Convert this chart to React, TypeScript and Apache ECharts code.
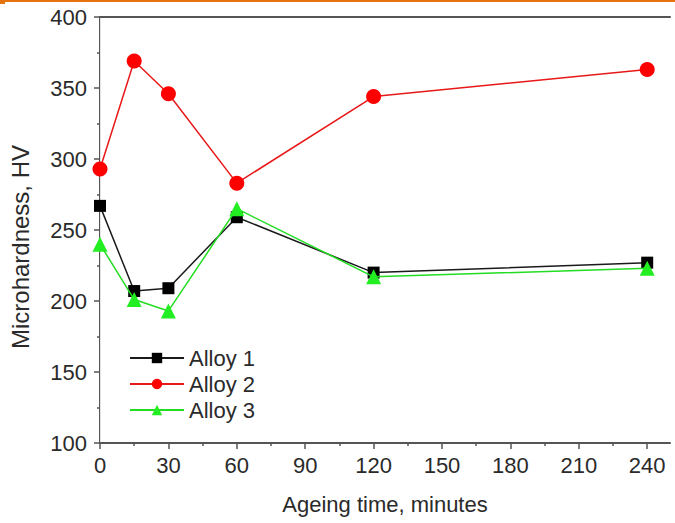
import React, { useEffect, useRef } from "react";
import * as echarts from "echarts";

const times = [0, 15, 30, 60, 120, 240];
const alloy1 = [267, 207, 209, 259, 220, 227];
const alloy2 = [293, 369, 346, 283, 344, 363];
const alloy3 = [240, 201, 193, 265, 217, 223];
const seriesNames = ["Alloy 1", "Alloy 2", "Alloy 3"];
const xMajorTicks = [0, 30, 60, 90, 120, 150, 180, 210, 240];
const xMinorTicks = [15, 45, 75, 105, 135, 165, 195, 225];

const FONT = "Liberation Sans, Arial, sans-serif";
const AXIS = "#555555";
const TEXT = "#2a2a2a";

export default function App() {
  const ref = useRef<HTMLDivElement>(null);
  useEffect(() => {
    document.body.style.margin = "0";
    const chart = echarts.init(ref.current!, null, { renderer: "svg" });
    const pair = (ys: number[]) => times.map((t, i) => [t, ys[i]]);
    const baseX = { type: "value", min: 0, max: 250, splitLine: { show: false } };
    chart.setOption({
      animation: false,
      backgroundColor: "#ffffff",
      textStyle: { fontFamily: FONT },
      graphic: [
        { type: "rect", shape: { x: 0, y: 0, width: 675, height: 2 }, style: { fill: "#e5730f" } },
        { type: "rect", shape: { x: 0, y: 0, width: 5, height: 4 }, style: { fill: "#e5730f" } },
      ],
      grid: { left: 100, top: 17, right: 5, bottom: 80, outerBoundsMode: "none", containLabel: false },
      legend: {
        orient: "vertical",
        left: 124,
        top: 342,
        itemWidth: 54,
        itemHeight: 13,
        itemGap: 4,
        textStyle: { fontSize: 22, color: TEXT, fontFamily: FONT },
        data: seriesNames,
      },
      xAxis: [
        {
          ...baseX,
          position: "bottom",
          name: "Ageing time, minutes",
          nameLocation: "middle",
          nameGap: 50,
          nameMoveOverlap: false,
          nameTextStyle: { fontSize: 22, color: TEXT, fontFamily: FONT },
          axisLine: { lineStyle: { color: AXIS, width: 2 } },
          axisTick: { show: true, length: 6, customValues: xMajorTicks, lineStyle: { color: AXIS, width: 1.5 } },
          axisLabel: { fontSize: 22, color: TEXT, margin: 11, customValues: xMajorTicks, fontFamily: FONT },
        },
        {
          ...baseX,
          position: "bottom",
          axisLine: { show: false },
          axisTick: { show: true, length: 3, customValues: xMinorTicks, lineStyle: { color: AXIS, width: 1.5 } },
          axisLabel: { show: false },
        },
        {
          ...baseX,
          position: "top",
          axisLine: { show: true, lineStyle: { color: AXIS, width: 2 } },
          axisTick: { show: false },
          axisLabel: { show: false },
        },
      ],
      yAxis: [
        {
          type: "value",
          position: "left",
          min: 100,
          max: 400,
          interval: 50,
          name: "Microhardness, HV",
          nameLocation: "middle",
          nameGap: 68,
          nameRotate: 90,
          nameMoveOverlap: false,
          nameTextStyle: { fontSize: 24, color: TEXT, fontFamily: FONT, padding: [0, 34, 0, 0] },
          axisLine: { show: true, lineStyle: { color: AXIS, width: 2 } },
          axisTick: { show: true, length: 6, lineStyle: { color: AXIS, width: 1.5 } },
          minorTick: { show: true, splitNumber: 2, length: 3, lineStyle: { color: AXIS, width: 1.5 } },
          axisLabel: { fontSize: 22, color: TEXT, margin: 13, fontFamily: FONT },
          splitLine: { show: false },
        },
        {
          type: "value",
          position: "right",
          min: 100,
          max: 400,
          axisLine: { show: true, lineStyle: { color: "#e4e4e4", width: 1 } },
          axisTick: { show: false },
          axisLabel: { show: false },
          splitLine: { show: false },
        },
      ],
      series: [
        {
          name: seriesNames[0],
          type: "line",
          xAxisIndex: 0,
          yAxisIndex: 0,
          data: pair(alloy1),
          symbol: "rect",
          symbolSize: 12,
          itemStyle: { color: "#000000" },
          lineStyle: { color: "#1a1a1a", width: 1.5 },
          z: 3,
        },
        {
          name: seriesNames[1],
          type: "line",
          xAxisIndex: 0,
          yAxisIndex: 0,
          data: pair(alloy2),
          symbol: "circle",
          symbolSize: 15,
          itemStyle: { color: "#ff0000" },
          lineStyle: { color: "#e81818", width: 1.5 },
          z: 2,
        },
        {
          name: seriesNames[2],
          type: "line",
          xAxisIndex: 0,
          yAxisIndex: 0,
          data: pair(alloy3),
          symbol: "triangle",
          symbolSize: 15,
          itemStyle: { color: "#22ee22" },
          lineStyle: { color: "#22dd22", width: 1.5 },
          z: 4,
        },
      ],
    });
    return () => chart.dispose();
  }, []);
  return <div ref={ref} style={{ width: 675, height: 523 }} />;
}
